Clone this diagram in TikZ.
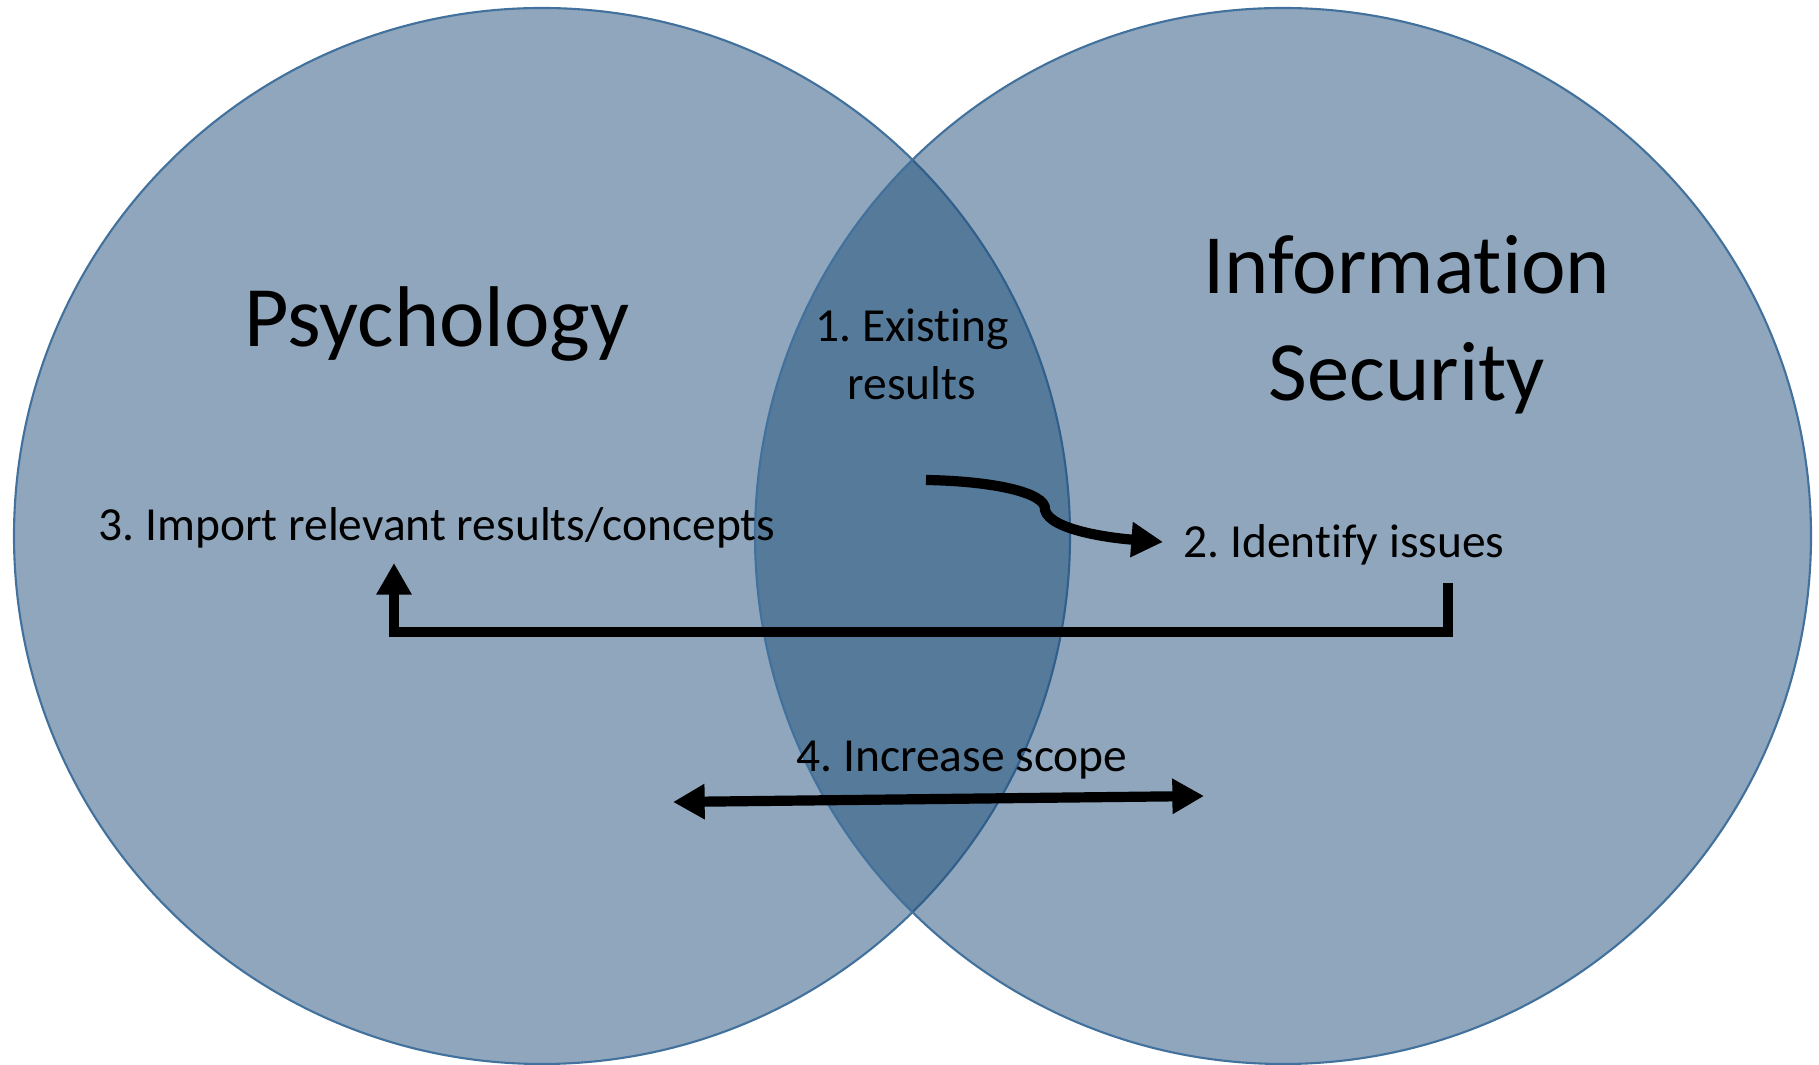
\documentclass[tikz,border=0pt]{standalone}
\usepackage{fontspec}
\setmainfont{Carlito}[Ligatures=NoCommon]
\usetikzlibrary{arrows.meta}
\definecolor{venn}{HTML}{1F4E79}
\definecolor{vennline}{HTML}{41719C}
\frenchspacing
\begin{document}
\begin{tikzpicture}[x=0.01cm, y=-0.01cm, >={Triangle[length=9pt,width=9.5pt]}]
   \useasboundingbox (0,0) rectangle (1819,1065);
   \begin{scope}[every path/.style={fill=venn, fill opacity=0.5, draw=vennline, line width=0.6pt}]
    \draw (542,536) circle[radius=528];
    \draw (1283,536) circle[radius=528];
   \end{scope}
   \begin{scope}[every node/.style={font=\fontsize{13.5}{16.5}\selectfont, inner sep=0pt, align=center}]
    \node[font=\fontsize{24.5}{29}\selectfont, anchor=base] (psych) at (437,347) {Psychology};
    \node[font=\fontsize{24}{30.3}\selectfont] (infosec) at (1407,325) {Information\\Security};
    \node (existing) at (912,354) {1. Existing\\results};
    \node[anchor=base] (issues) at (1344,558) {2. Identify issues};
    \node[anchor=base] (import) at (437,541) {3. Import relevant results/concepts};
    \node[anchor=base] (scope) at (962,772) {4. Increase scope};
   \end{scope}
   \coordinate (c1) at (926,480);
   \coordinate (c2) at (1163,542);
   \coordinate (r1) at (1448,583);
   \coordinate (r2) at (394,563);
   \coordinate (s1) at (673,802);
   \coordinate (s2) at (1204,796);
   \begin{scope}[every path/.style={draw=black, line width=2.9pt}]
    \draw[->] (c1) .. controls (990,481) and (1047,492) .. (1045,510)
                   .. controls (1050,530) and (1110,538) .. (c2);
    \draw[->] (r1) -- ++(0,49) -| (r2);
    \draw[<->] (s1) -- (s2);
   \end{scope}
\end{tikzpicture}
\end{document}
